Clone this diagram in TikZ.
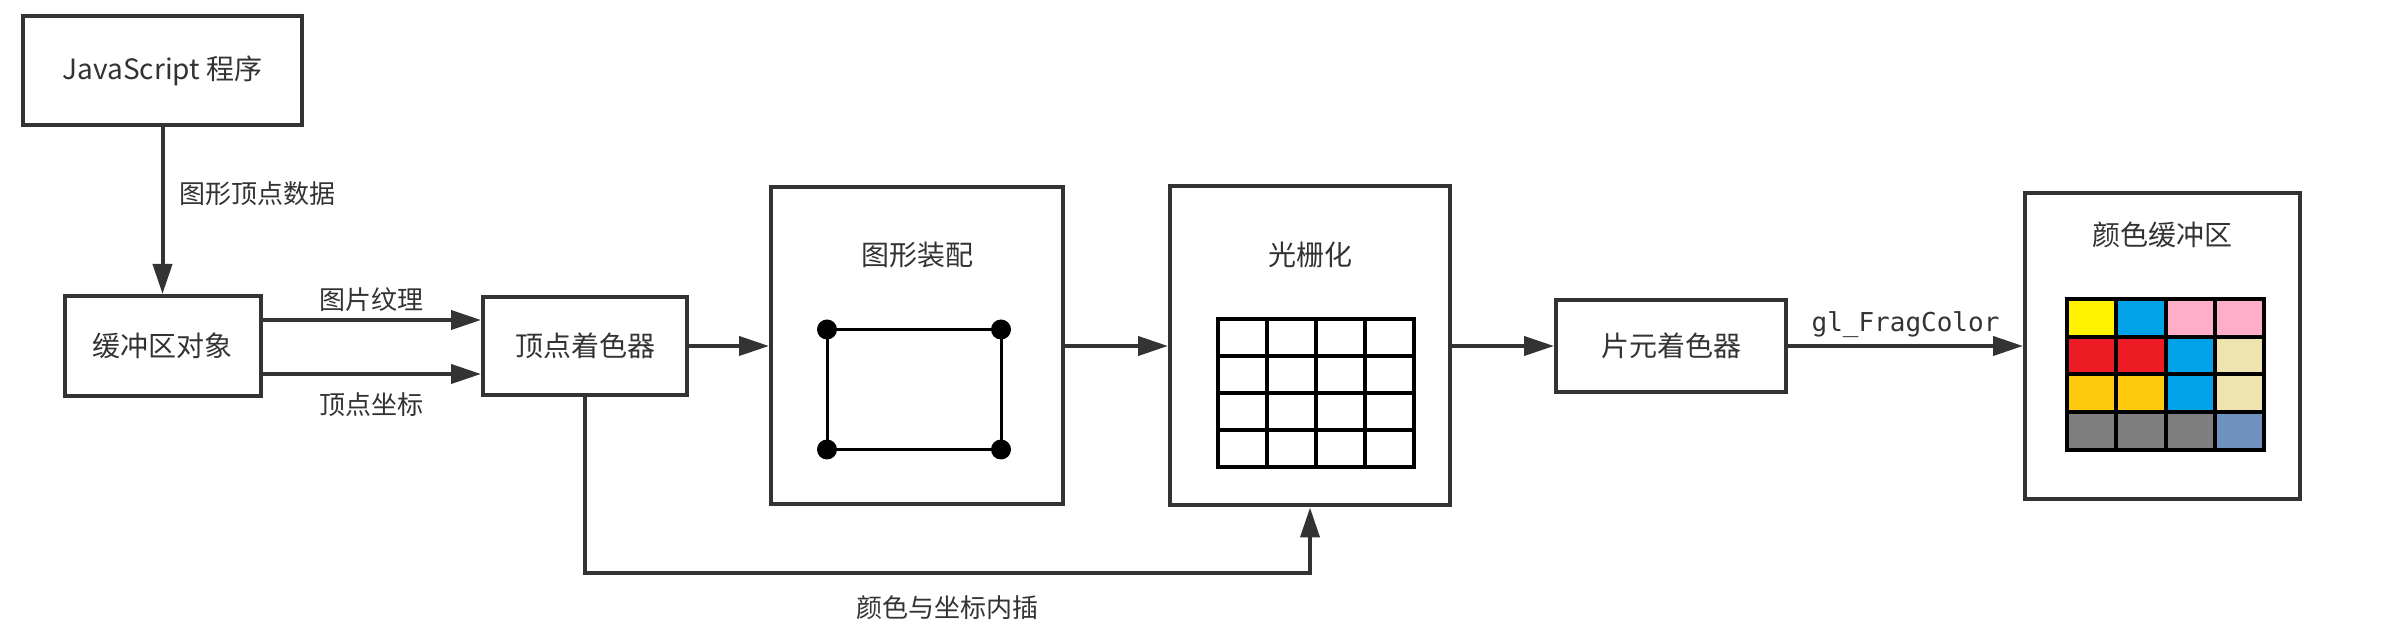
\documentclass[tikz,border=0pt]{standalone}
\usepackage{fontspec}
\setmainfont{Noto Sans CJK SC}
\setmonofont{DejaVu Sans Mono}
\usepackage{tikz}
\usetikzlibrary{arrows.meta, positioning}
\definecolor{ink}{HTML}{333333}
\definecolor{cyel}{HTML}{FFF200}
\definecolor{cblu}{HTML}{00A2E8}
\definecolor{cpnk}{HTML}{FFAEC9}
\definecolor{cred}{HTML}{ED1C24}
\definecolor{cgld}{HTML}{FFC90E}
\definecolor{cbei}{HTML}{EFE4B0}
\definecolor{cgry}{HTML}{7F7F7F}
\definecolor{cstl}{HTML}{7092BE}
\tikzstyle{stage}=[draw=ink,line width=2pt,fill=white,rectangle,inner sep=0pt,text=ink,font=\fontsize{14pt}{17pt}\selectfont]
\tikzstyle{title}=[text=ink,font=\fontsize{14pt}{17pt}\selectfont]
\tikzstyle{tag}=[text=ink,font=\fontsize{13pt}{16pt}\selectfont]
\tikzstyle{flow}=[draw=ink,line width=2pt,->]
\newcommand{\mono}[1]{\mbox{\texttt{#1}}}

\begin{document}
\begin{tikzpicture}[x=0.5pt,y=-0.5pt,>={Triangle[length=15pt,width=9.5pt]}]
    \useasboundingbox (0,0) rectangle (2394,640);
    \node[stage, minimum width=139.5pt, minimum height=54.5pt] (js) at (162.5,70.5) {JavaScript 程序};
    \node[stage, below of=js, node distance=137.75pt, minimum width=98pt, minimum height=50pt] (buf) {缓冲区对象};
    \node[stage, right of=buf, node distance=211.25pt, minimum width=102pt, minimum height=49pt] (vs) {顶点着色器};
    \node[stage, right of=vs, node distance=166pt, minimum width=146pt, minimum height=158.5pt] (asm) {};
    \node[stage, right of=asm, node distance=196.5pt, minimum width=140pt, minimum height=159.5pt] (ras) {};
    \node[stage, right of=ras, node distance=180.5pt, minimum width=115pt, minimum height=46pt] (fs) {片元着色器};
    \node[stage, right of=fs, node distance=245.75pt, minimum width=137.5pt, minimum height=153pt] (cb) {};
    \node[title, above of=asm, node distance=45.75pt] (asmtitle) {图形装配};
    \node[title, above of=ras, node distance=45.75pt] (rastitle) {光栅化};
    \node[title, above of=cb, node distance=55.5pt] (cbtitle) {颜色缓冲区};
    % primitive with its vertices
    \begin{scope}[shift={(asm.center)}]
        \draw[line width=1.5pt] (-90,-16.5) rectangle (84,103.5);
        \foreach \x in {-90,84}
            \foreach \y in {-16.5,103.5}
                \fill (\x,\y) circle (5pt);
    \end{scope}
    % fragments
    \begin{scope}[shift={(ras.center)}]
        \foreach \i in {0,...,3}
            \foreach \j in {0,...,3}
                \draw[line width=2pt] ({-92+49*\i},{-26.5+37*\j}) rectangle ++(49,37);
    \end{scope}
    % pixels
    \begin{scope}[shift={(cb.center)}]
        \foreach \row [count=\j from 0] in {{cyel,cblu,cpnk,cpnk},{cred,cred,cblu,cbei},{cgld,cgld,cblu,cbei},{cgry,cgry,cgry,cstl}}
            \foreach \c [count=\i from 0] in \row
                \draw[line width=2pt, fill=\c] ({-95.5+49.25*\i},{-47+37.75*\j}) rectangle ++(49.25,37.75);
    \end{scope}
    \draw[flow] (js) -- node[tag, right=4pt, pos=0.4] {图形顶点数据} (buf);
    \draw[flow] ([yshift=13pt]buf.east) -- node[tag, above] {图片纹理} ([yshift=13pt]vs.west);
    \draw[flow] ([yshift=-14pt]buf.east) -- node[tag, below=5pt] {顶点坐标} ([yshift=-14pt]vs.west);
    \draw[flow] (vs) -- (asm);
    \draw[flow] (asm) -- (ras);
    \draw[flow] (ras) -- (fs);
    \draw[flow] (fs) -- node[tag, above] {\mono{gl\_FragColor}} (cb);
    \draw[flow] (vs.south) -- ++(0,-88pt) -| node[tag, pos=0.25, below=7pt] {颜色与坐标内插} (ras.south);
\end{tikzpicture}
\end{document}
